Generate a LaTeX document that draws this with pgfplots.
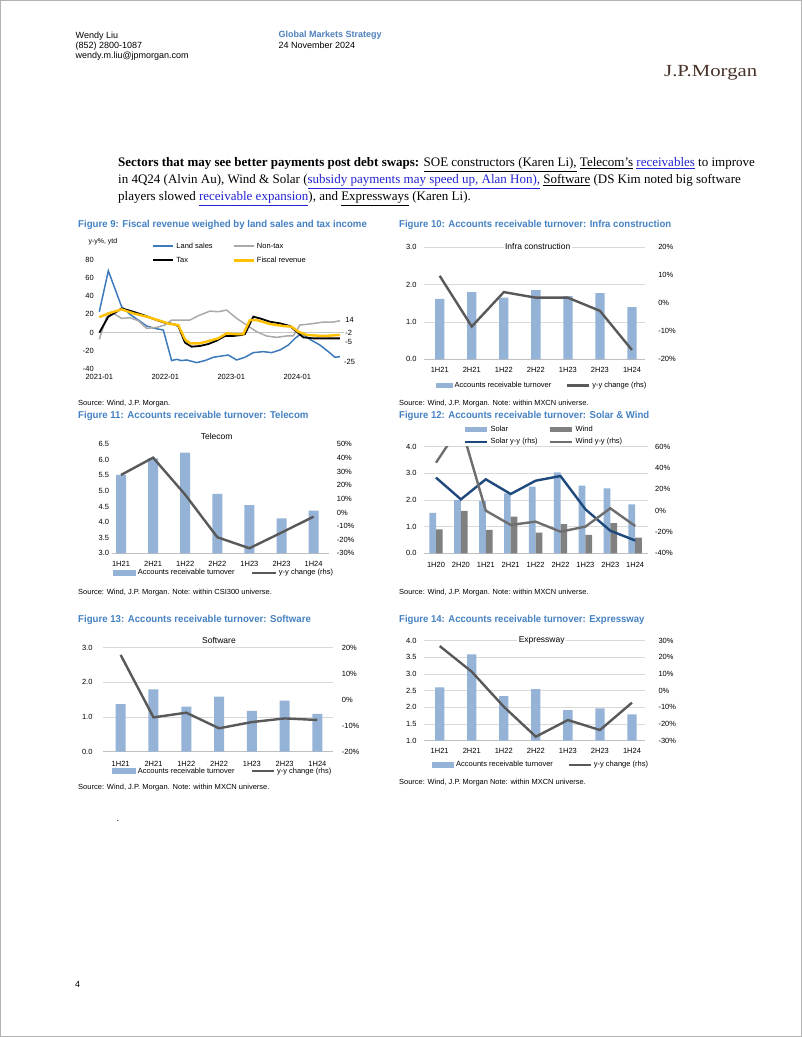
\documentclass[border=0pt]{standalone}
\usepackage{pgfplots}
\pgfplotsset{compat=1.18}
\usepackage{fontspec}
\usepackage{graphicx}
\setmainfont{Liberation Sans}
\newfontfamily\serif{Liberation Serif}
\definecolor{titleblue}{RGB}{69,130,195}
\definecolor{hdrblue}{RGB}{79,129,189}
\definecolor{linkblue}{RGB}{35,35,210}
\definecolor{logobrown}{RGB}{72,52,42}
\definecolor{barblue}{RGB}{149,179,215}
\definecolor{ydark}{RGB}{89,89,89}
\definecolor{gridgray}{RGB}{217,217,217}
\definecolor{basegray}{RGB}{191,191,191}
\definecolor{landblue}{RGB}{62,122,188}
\definecolor{nontaxgray}{RGB}{170,170,170}
\definecolor{fiscalyellow}{RGB}{255,192,0}
\definecolor{solarblue}{RGB}{31,73,125}
\definecolor{windgray}{RGB}{128,128,128}
\definecolor{windline}{RGB}{110,110,110}
\newcommand\cf{\fontsize{7.5}{9}\selectfont}
\newcommand\ftitle[2]{\resizebox{#1}{\height}{\bfseries\fontsize{10}{12}\selectfont #2}}
\newcommand\src[2]{\resizebox{#1}{\height}{\fontsize{7.4}{9}\selectfont #2}}
\pgfplotsset{
  every axis/.append style={scale only axis, axis line style={draw=none}, major tick length=0pt,
    tick label style={font=\cf, inner sep=0pt}, legend style={font=\cf}},
  limg/.style={legend image code/.code={\draw (0pt,0pt) -- (#1,0pt);}},
  limgw/.style={legend image code/.code={\draw[line width=#1] (0pt,0pt) -- (20pt,0pt);}},
  bimg/.style={legend image code/.code={\fill (0pt,-2.6pt) rectangle (#1,2.6pt);}},
  yyline/.style={draw=ydark, line width=2.4pt, mark=none},
  leg/.style={legend columns=2, legend cell align=left,
    legend style={draw=none, fill=none, inner sep=0pt, nodes={inner sep=0.5pt},
    /tikz/every odd column/.append style={column sep=1.5pt},
    /tikz/every even column/.append style={column sep=#1}}},
  halfcats/.style={xtick={0,...,6}, xticklabels={1H21,2H21,1H22,2H22,1H23,2H23,1H24}},
}
\begin{document}
\begin{tikzpicture}[x=1pt,y=1pt]
\path[fill=white,draw=gray!60,line width=0.6pt] (0.3,0.3) rectangle (801.7,1036.7);
% header
\node[anchor=base west,inner sep=0,font=\fontsize{9}{10}\selectfont] at (75.5,998.7) {Wendy Liu};
\node[anchor=base west,inner sep=0,font=\fontsize{9}{10}\selectfont] at (75.5,988.5) {(852) 2800-1087};
\node[anchor=base west,inner sep=0,font=\fontsize{9}{10}\selectfont] at (75.5,978.3) {wendy.m.liu@jpmorgan.com};
\node[anchor=base west,inner sep=0,font=\bfseries\fontsize{9}{10}\selectfont,text=hdrblue] at (278.5,999.2) {Global Markets Strategy};
\node[anchor=base west,inner sep=0,font=\fontsize{9}{10}\selectfont] at (278.5,988.7) {24 November 2024};
\node[anchor=base west,inner sep=0,text=logobrown] at (664,960) {\resizebox{93pt}{\height}{\serif\fontsize{17}{17}\selectfont J.P.Morgan}};
% paragraph
\node[anchor=base west,inner sep=0,font=\serif\fontsize{13}{15}\selectfont] at (118,870) {\textbf{Sectors that may see better payments post debt swaps:} \underline{SOE constructors (Karen Li),} \underline{Telecom’s} {\color{linkblue}\underline{receivables}} to improve};
\node[anchor=base west,inner sep=0,font=\serif\fontsize{13}{15}\selectfont] at (118,853) {in 4Q24 (Alvin Au), Wind \& Solar ({\color{linkblue}\underline{subsidy payments may speed up, Alan Hon),}} \underline{Software} (DS Kim noted big software};
\node[anchor=base west,inner sep=0,font=\serif\fontsize{13}{15}\selectfont] at (118,836) {players slowed {\color{linkblue}\underline{receivable expansion}}), and \underline{Expressways} (Karen Li).};
% titles
\node[anchor=base west,inner sep=0,text=titleblue] at (78,809.4) {\ftitle{288.7pt}{Figure 9: Fiscal revenue weighed by land sales and tax income}};
\node[anchor=base west,inner sep=0,text=titleblue] at (399,809.4) {\ftitle{272pt}{Figure 10: Accounts receivable turnover: Infra construction}};
\node[anchor=base west,inner sep=0,text=titleblue] at (78,618.4) {\ftitle{230.3pt}{Figure 11: Accounts receivable turnover: Telecom}};
\node[anchor=base west,inner sep=0,text=titleblue] at (399,618.4) {\ftitle{250pt}{Figure 12: Accounts receivable turnover: Solar \& Wind}};
\node[anchor=base west,inner sep=0,text=titleblue] at (78,414) {\ftitle{232.7pt}{Figure 13: Accounts receivable turnover: Software}};
\node[anchor=base west,inner sep=0,text=titleblue] at (399,414) {\ftitle{245.3pt}{Figure 14: Accounts receivable turnover: Expressway}};
% sources
\node[anchor=base west,inner sep=0] at (78,631.7) {\src{92pt}{Source: Wind, J.P. Morgan.}};
\node[anchor=base west,inner sep=0] at (399,631.7) {\src{189.3pt}{Source: Wind, J.P. Morgan. Note: within MXCN universe.}};
\node[anchor=base west,inner sep=0] at (78,442.4) {\src{193.7pt}{Source: Wind, J.P. Morgan. Note: within CSI300 universe.}};
\node[anchor=base west,inner sep=0] at (399,442.4) {\src{189.3pt}{Source: Wind, J.P. Morgan. Note: within MXCN universe.}};
\node[anchor=base west,inner sep=0] at (78,247.7) {\src{191.3pt}{Source: Wind, J.P. Morgan. Note: within MXCN universe.}};
\node[anchor=base west,inner sep=0] at (399,252.7) {\src{186.7pt}{Source: Wind, J.P. Morgan Note: within MXCN universe.}};
\node[anchor=base west,inner sep=0,font=\fontsize{9}{10}\selectfont] at (116.5,215) {.};
\node[anchor=base west,inner sep=0,font=\fontsize{9}{10}\selectfont] at (75,49) {4};

% ===== Figure 9 =====
\node[anchor=west,inner sep=0,font=\fontsize{7}{8}\selectfont] at (88.3,795) {y-y\%, ytd};
\begin{axis}[at={(99.3pt,667.7pt)}, anchor=south west, width=244.75pt, height=109.8pt,
  xmin=0, xmax=44.5, ymin=-40, ymax=80, clip=false,
  xtick={0,12,24,36}, xticklabels={2021-01,2022-01,2023-01,2024-01},
  xticklabel style={anchor=north, yshift=-5pt},
  ytick={-40,-20,0,20,40,60,80}, yticklabels={-40,-20,0,20,40,60,80},
  yticklabel style={anchor=east, xshift=-5.3pt},
  extra y ticks={0}, extra y tick labels={},
  extra y tick style={ymajorgrids=true, major grid style={draw=gridgray!80!gray, line width=0.8pt}},
  leg=19pt, legend style={at={(axis description cs:0.2146,1.0565)}, anchor=west, row sep=6pt}]
\addplot[draw=landblue, line width=1.5pt, limgw=2.2pt] coordinates {
(0,22.9)(1.64,67.6)(4.06,28.4)(5.58,20.0)(7.09,13.8)(8.61,7.3)(10.12,4.7)(11.64,2.9)
(13.15,-30.5)(14.06,-29.1)(14.97,-30.5)(15.88,-29.8)(17.7,-32.7)(19.21,-30.5)(20.73,-26.9)
(22.24,-25.5)(23.45,-24.4)(24.97,-29.8)(26.48,-26.9)(28.0,-21.8)(29.82,-20.7)(31.33,-21.8)
(32.85,-18.9)(34.36,-13.5)(35.58,-6.2)(36.79,-0.7)(38.3,-7.3)(40.12,-13.5)(41.64,-20.7)
(42.85,-26.9)(43.76,-26.2)};
\addlegendentry{Land sales}
\addplot[draw=nontaxgray, line width=1.5pt, limgw=2.2pt] coordinates {
(0,-7.3)(1.33,17.5)(2.55,21.1)(4.06,15.6)(5.58,16.4)(7.09,13.1)(8.61,4.7)(10.42,5.8)
(11.94,8.4)(13.15,13.8)(14.67,13.8)(16.48,13.8)(18.0,18.5)(20.12,23.6)(21.64,22.9)
(23.15,24.7)(24.97,15.6)(26.79,8.4)(28.61,1.1)(30.42,-3.6)(32.24,-5.1)(34.06,-3.6)
(35.27,-3.6)(36.48,8.4)(38.3,9.5)(40.73,11.6)(42.55,11.6)(43.76,13.1)};
\addlegendentry{Non-tax}
\addplot[draw=black, line width=1.8pt, limgw=2.4pt] coordinates {
(0,0)(1.64,17.5)(3.15,22.9)(4.06,26.5)(5.58,24.0)(8.0,19.3)(10.42,13.8)(11.94,10.9)
(13.45,9.5)(14.36,7.3)(15.58,-10.9)(16.79,-15.3)(18.3,-14.5)(19.82,-12.4)(21.33,-8.7)
(22.85,-3.6)(24.36,-3.6)(25.88,-2.5)(26.48,-1.5)(28.0,17.5)(29.21,15.6)(31.03,12.0)
(32.85,10.2)(34.67,7.3)(35.88,1.1)(37.09,-5.1)(38.91,-6.2)(40.73,-6.2)(43.76,-6.2)};
\addlegendentry{Tax}
\addplot[draw=fiscalyellow, line width=2.4pt, limgw=2.8pt] coordinates {
(0,17)(1.64,21.1)(4.06,25.5)(6.18,21.1)(8.61,17.5)(11.03,13.1)(12.85,9.5)(14.36,8.4)
(15.58,-7.3)(16.48,-11.6)(18.3,-11.6)(20.12,-8.7)(21.64,-6.2)(23.15,-0.7)(24.67,-1.5)
(26.18,-1.5)(27.39,13.8)(28.61,13.8)(31.03,9.5)(33.45,7.3)(34.97,6.5)(36.18,1.1)
(37.7,-2.5)(40.73,-3.6)(43.76,-2.5)};
\addlegendentry{Fiscal revenue}
\node[anchor=west,inner sep=0,font=\cf] at (axis cs:44.7,14.4) {14};
\node[anchor=west,inner sep=0,font=\cf] at (axis cs:44.7,-0.7) {-2};
\node[anchor=west,inner sep=0,font=\cf] at (axis cs:44.7,-9.6) {-5};
\node[anchor=west,inner sep=0,font=\cf] at (axis cs:44.5,-31.7) {-25};
\end{axis}

% ===== Figure 10 =====
\begin{axis}[at={(423.7pt,677.7pt)}, anchor=south west, width=221.1pt, height=112pt,
  xmin=-0.5, xmax=6.4, ymin=0, ymax=3, halfcats,
  xticklabel style={anchor=north, yshift=-8pt},
  ytick={0,1,2,3}, yticklabels={0.0,1.0,2.0,3.0}, yticklabel style={anchor=east, xshift=-7pt},
  ymajorgrids, major grid style={draw=gridgray, line width=0.6pt},
  extra y ticks={0}, extra y tick labels={},
  extra y tick style={ymajorgrids=true, major grid style={draw=basegray, line width=0.8pt}},
  leg=14pt, legend style={at={(axis description cs:0.0556,-0.2357)}, anchor=west}]
\addplot[ybar, bar width=9.3pt, fill=barblue, draw=none, bimg=16.5pt] coordinates {(0,1.62)(1,1.80)(2,1.65)(3,1.85)(4,1.69)(5,1.77)(6,1.40)};
\addlegendentry{Accounts receivable turnover}
\addlegendimage{yyline, limg=22pt}
\addlegendentry{y-y change (rhs)}
\end{axis}
\begin{axis}[at={(423.7pt,677.7pt)}, anchor=south west, width=221.1pt, height=112pt,
  xmin=-0.5, xmax=6.4, ymin=-20, ymax=20, xtick=\empty,
  ytick={-20,-10,0,10,20}, yticklabels={-20\%,-10\%,0\%,10\%,20\%},
  yticklabel pos=right, yticklabel style={anchor=west, xshift=13.3pt}]
\addplot[yyline] coordinates {(0,9.8)(1,-8.3)(2,4.0)(3,2.0)(4,2.0)(5,-2.7)(6,-16.7)};
\end{axis}
\node[fill=white,inner sep=1.5pt,font=\fontsize{8.5}{10}\selectfont] at (537.7,791) {Infra construction};

% ===== Figure 11 =====
\begin{axis}[at={(111.7pt,483.7pt)}, anchor=south west, width=217pt, height=109pt,
  xmin=-0.29, xmax=6.47, ymin=3, ymax=6.5, halfcats,
  xticklabel style={anchor=north, yshift=-8pt},
  ytick={3,3.5,4,4.5,5,5.5,6,6.5}, yticklabels={3.0,3.5,4.0,4.5,5.0,5.5,6.0,6.5},
  yticklabel style={anchor=east, xshift=-2.4pt},
  extra y ticks={3}, extra y tick labels={},
  extra y tick style={ymajorgrids=true, major grid style={draw=basegray, line width=0.8pt}},
  leg=16pt, legend style={at={(axis description cs:0.003,-0.181)}, anchor=west}]
\addplot[ybar, bar width=10pt, fill=barblue, draw=none, bimg=23.4pt] coordinates {(0,5.52)(1,6.05)(2,6.23)(3,4.91)(4,4.55)(5,4.12)(6,4.37)};
\addlegendentry{Accounts receivable turnover}
\addlegendimage{yyline, limg=23.4pt}
\addlegendentry{y-y change (rhs)}
\end{axis}
\begin{axis}[at={(111.7pt,483.7pt)}, anchor=south west, width=217pt, height=109pt,
  xmin=-0.29, xmax=6.47, ymin=-30, ymax=50, xtick=\empty,
  ytick={-30,-20,...,50}, yticklabels={-30\%,-20\%,-10\%,0\%,10\%,20\%,30\%,40\%,50\%},
  yticklabel pos=right, yticklabel style={anchor=west, xshift=8pt}]
\addplot[yyline] coordinates {(0,27.5)(1,40.2)(2,13)(3,-18.2)(4,-26.3)(5,-14.8)(6,-3.1)};
\end{axis}
\node[inner sep=1.5pt,font=\fontsize{8.5}{10}\selectfont] at (216.7,601) {Telecom};

% ===== Figure 12 =====
\begin{axis}[at={(423.55pt,483.7pt)}, anchor=south west, width=224.1pt, height=106.6pt,
  xmin=-0.5, xmax=8.5, ymin=0, ymax=4, ybar=0pt, bar width=6.7pt,
  xtick={0,...,8}, xticklabels={1H20,2H20,1H21,2H21,1H22,2H22,1H23,2H23,1H24},
  xticklabel style={anchor=north, yshift=-9pt},
  ytick={0,1,2,3,4}, yticklabels={0.0,1.0,2.0,3.0,4.0}, yticklabel style={anchor=east, xshift=-6.9pt},
  ymajorgrids, major grid style={draw=gridgray, line width=0.6pt},
  extra y ticks={0}, extra y tick labels={},
  extra y tick style={ymajorgrids=true, major grid style={draw=basegray, line width=0.8pt}},
  leg=11pt, legend style={at={(axis description cs:0.1805,1.1018)}, anchor=west, row sep=4pt}]
\addplot[fill=barblue, draw=none, bimg=22pt] coordinates {(0,1.52)(1,2.0)(2,1.96)(3,2.25)(4,2.5)(5,3.04)(6,2.54)(7,2.44)(8,1.84)};
\addlegendentry{Solar}
\addplot[fill=windgray, draw=none, bimg=22pt] coordinates {(0,0.9)(1,1.59)(2,0.88)(3,1.38)(4,0.78)(5,1.09)(6,0.69)(7,1.13)(8,0.59)};
\addlegendentry{Wind}
\addlegendimage{draw=solarblue, line width=2.4pt, limg=22pt}
\addlegendentry{Solar y-y (rhs)}
\addlegendimage{draw=windline, line width=2.4pt, limg=22pt}
\addlegendentry{Wind y-y (rhs)}
\end{axis}
\begin{axis}[at={(423.55pt,483.7pt)}, anchor=south west, width=224.1pt, height=106.6pt,
  xmin=-0.5, xmax=8.5, ymin=-40, ymax=60, xtick=\empty,
  ytick={-40,-20,0,20,40,60}, yticklabels={-40\%,-20\%,0\%,20\%,40\%,60\%},
  yticklabel pos=right, yticklabel style={anchor=west, xshift=7.4pt}]
\addplot[draw=solarblue, line width=2.4pt, mark=none] coordinates {(0,31)(1,10.6)(2,29.4)(3,15.6)(4,28.1)(5,32.5)(6,1.3)(7,-18.8)(8,-28)};
\addplot[draw=windline, line width=2.4pt, mark=none] coordinates {(0,45)(1,80)(2,0)(3,-13.4)(4,-10.3)(5,-19.7)(6,-15)(7,2.2)(8,-14.4)};
\end{axis}

% ===== Figure 13 =====
\begin{axis}[at={(103.3pt,285.3pt)}, anchor=south west, width=229.9pt, height=104pt,
  xmin=-0.53, xmax=6.48, ymin=0, ymax=3, halfcats,
  xticklabel style={anchor=north, yshift=-8.9pt},
  ytick={0,1,2,3}, yticklabels={0.0,1.0,2.0,3.0}, yticklabel style={anchor=east, xshift=-10.6pt},
  ymajorgrids, major grid style={draw=gridgray, line width=0.6pt},
  extra y ticks={0}, extra y tick labels={},
  extra y tick style={ymajorgrids=true, major grid style={draw=basegray, line width=0.8pt}},
  leg=16pt, legend style={at={(axis description cs:0.039,-0.186)}, anchor=west}]
\addplot[ybar, bar width=10pt, fill=barblue, draw=none, bimg=23.4pt] coordinates {(0,1.37)(1,1.80)(2,1.30)(3,1.59)(4,1.18)(5,1.47)(6,1.09)};
\addlegendentry{Accounts receivable turnover}
\addlegendimage{yyline, limg=21.6pt}
\addlegendentry{y-y change (rhs)}
\end{axis}
\begin{axis}[at={(103.3pt,285.3pt)}, anchor=south west, width=229.9pt, height=104pt,
  xmin=-0.53, xmax=6.48, ymin=-20, ymax=20, xtick=\empty,
  ytick={-20,-10,0,10,20}, yticklabels={-20\%,-10\%,0\%,10\%,20\%},
  yticklabel pos=right, yticklabel style={anchor=west, xshift=8.5pt}]
\addplot[yyline] coordinates {(0,17.2)(1,-6.8)(2,-5)(3,-11)(4,-8.6)(5,-7.2)(6,-7.8)};
\end{axis}
\node[fill=white,inner sep=1.5pt,font=\fontsize{8.5}{10}\selectfont] at (219,396.3) {Software};

% ===== Figure 14 =====
\begin{axis}[at={(424.3pt,296.3pt)}, anchor=south west, width=220.5pt, height=100pt,
  xmin=-0.48, xmax=6.4, ymin=1, ymax=4, halfcats,
  xticklabel style={anchor=north, yshift=-7.3pt},
  ytick={1,1.5,2,2.5,3,3.5,4}, yticklabels={1.0,1.5,2.0,2.5,3.0,3.5,4.0}, yticklabel style={anchor=east, xshift=-7.6pt},
  ymajorgrids, major grid style={draw=gridgray, line width=0.6pt},
  extra y ticks={1}, extra y tick labels={},
  extra y tick style={ymajorgrids=true, major grid style={draw=basegray, line width=0.8pt}},
  leg=14pt, legend style={at={(axis description cs:0.035,-0.243)}, anchor=west}]
\addplot[ybar, bar width=9.3pt, fill=barblue, draw=none, bimg=22pt] coordinates {(0,2.6)(1,3.59)(2,2.34)(3,2.55)(4,1.92)(5,1.97)(6,1.79)};
\addlegendentry{Accounts receivable turnover}
\addlegendimage{yyline, limg=22pt}
\addlegendentry{y-y change (rhs)}
\end{axis}
\begin{axis}[at={(424.3pt,296.3pt)}, anchor=south west, width=220.5pt, height=100pt,
  xmin=-0.48, xmax=6.4, ymin=-30, ymax=30, xtick=\empty,
  ytick={-30,-20,...,30}, yticklabels={-30\%,-20\%,-10\%,0\%,10\%,20\%,30\%},
  yticklabel pos=right, yticklabel style={anchor=west, xshift=13.5pt}]
\addplot[yyline] coordinates {(0,26.8)(1,11.4)(2,-9.6)(3,-27.6)(4,-17.6)(5,-23.6)(6,-7.2)};
\end{axis}
\node[fill=white,inner sep=1.5pt,font=\fontsize{8.5}{10}\selectfont] at (541.7,396.3) {Expressway};
\end{tikzpicture}
\end{document}
